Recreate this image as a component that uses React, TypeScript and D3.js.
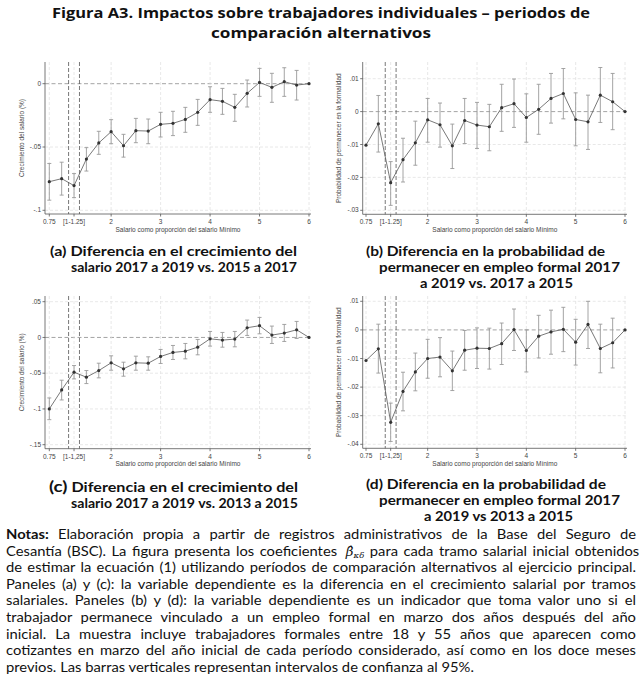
import React, { useLayoutEffect, useRef } from "react";
import * as d3 from "d3";

// bins of initial wage as a proportion of the minimum wage
const xVals = [0.75, 1, 1.25, 1.5, 1.75, 2, 2.25, 2.5, 2.75, 3, 3.25, 3.5, 3.75, 4, 4.25, 4.5, 4.75, 5, 5.25, 5.5, 5.75, 6];
const xTicks = [0.75, 1.25, 2, 3, 4, 5, 6];
const refLines = [1.14, 1.36];

// (a) wage growth 2017-2019 vs 2015-2017
const estA = [-0.0774, -0.075, -0.0805, -0.0595, -0.0468, -0.0379, -0.049, -0.0371, -0.0374, -0.0321, -0.0313, -0.0282, -0.0226, -0.0126, -0.0139, -0.0187, -0.0076, 0.001, -0.0029, 0.0016, -0.0011, 0];
const loA = [-0.092, -0.088, -0.09, -0.069, -0.0558, -0.0474, -0.058, -0.0466, -0.0474, -0.0421, -0.041, -0.0384, -0.0329, -0.0226, -0.0242, -0.0297, -0.0184, -0.01, -0.0147, -0.01, -0.0129, null];
const hiA = [-0.063, -0.062, -0.071, -0.0505, -0.0376, -0.0284, -0.04, -0.0274, -0.0279, -0.0226, -0.0218, -0.0187, -0.0124, -0.0024, -0.0037, -0.0084, 0.0029, 0.0121, 0.0082, 0.0126, 0.0105, null];

// (b) prob. of staying formal 2017-2019 vs 2015-2017
const estB = [-0.0102, -0.0037, -0.0216, -0.0146, -0.0095, -0.0025, -0.004, -0.0104, -0.0027, -0.0041, -0.0046, 0.0012, 0.0024, -0.0018, 0.0007, 0.004, 0.0055, -0.0024, -0.0031, 0.005, 0.003, 0];
const loB = [null, -0.0123, -0.0285, -0.0214, -0.0163, -0.0093, -0.0108, -0.0173, -0.0097, -0.0112, -0.0119, -0.006, -0.0048, -0.0093, -0.0069, -0.0035, -0.0022, -0.0104, -0.0115, -0.0033, -0.0055, null];
const hiB = [null, 0.0049, -0.0152, -0.0081, -0.0029, 0.004, 0.0026, -0.0038, 0.004, 0.0028, 0.0022, 0.0083, 0.0099, 0.0054, 0.0083, 0.0116, 0.0131, 0.0057, 0.005, 0.0134, 0.0116, null];

// (c) wage growth 2017-2019 vs 2013-2015
const estC = [-0.1, -0.0734, -0.0486, -0.0556, -0.0463, -0.0355, -0.0439, -0.0355, -0.036, -0.0266, -0.021, -0.0192, -0.0136, -0.0019, -0.0037, -0.0023, 0.0136, 0.0164, 0.0033, 0.0061, 0.0107, 0];
const loC = [-0.115, -0.0874, -0.058, -0.0645, -0.0565, -0.0458, -0.0542, -0.0458, -0.0458, -0.0364, -0.0308, -0.0299, -0.0243, -0.0121, -0.0136, -0.0131, 0.0028, 0.0051, -0.0084, -0.0056, -0.0014, null];
const hiC = [-0.0846, -0.0598, -0.0393, -0.0463, -0.036, -0.0257, -0.0346, -0.0262, -0.0271, -0.0168, -0.0112, -0.0084, -0.0028, 0.0084, 0.007, 0.0084, 0.0243, 0.028, 0.0159, 0.0182, 0.0224, null];

// (d) prob. of staying formal 2017-2019 vs 2013-2015
const estD = [-0.0107, -0.0066, -0.0323, -0.0215, -0.0147, -0.01, -0.0095, -0.0143, -0.0071, -0.0064, -0.0065, -0.0048, 0.0001, -0.0072, -0.0022, -0.0007, 0.0002, -0.0043, 0.0019, -0.0065, -0.0045, 0];
const loD = [null, -0.0151, -0.039, -0.0283, -0.0213, -0.0169, -0.0164, -0.0212, -0.0141, -0.0135, -0.0137, -0.0121, -0.0072, -0.0147, -0.0098, -0.0085, -0.0076, -0.0123, -0.0065, -0.015, -0.0133, null];
const hiD = [null, 0.002, -0.0256, -0.0148, -0.0081, -0.0033, -0.0027, -0.0074, -0.0002, 0.0007, 0.0006, 0.0024, 0.0073, 0, 0.0051, 0.0069, 0.0079, 0.0037, 0.01, 0.002, 0.0041, null];

const yTicksWage = [0, -0.05, -0.1];
const yLabelsWageA = ["0", "-.05", "-.1"];
const yTicksWageC = [0.05, 0, -0.05, -0.1, -0.15];
const yLabelsWageC = [".05", "0", "-.05", "-.1", "-.15"];
const yTicksFormB = [0.01, 0, -0.01, -0.02, -0.03];
const yLabelsFormB = [".01", "0", "-.01", "-.02", "-.03"];
const yTicksFormD = [0.01, 0, -0.01, -0.02, -0.03, -0.04];
const yLabelsFormD = [".01", "0", "-.01", "-.02", "-.03", "-.04"];

const noteLines = [
  "de estimar la ecuación (1) utilizando períodos de comparación alternativos al ejercicio principal.",
  "Paneles (a) y (c): la variable dependiente es la diferencia en el crecimiento salarial por tramos",
  "salariales. Paneles (b) y (d): la variable dependiente es un indicador que toma valor uno si el",
  "trabajador permanece vinculado a un empleo formal en marzo dos años después del año",
  "inicial. La muestra incluye trabajadores formales entre 18 y 55 años que aparecen como",
  "cotizantes en marzo del año inicial de cada período considerado, así como en los doce meses",
];

const axisFont = "'Liberation Sans', Arial, sans-serif";
const textFont = "Lato, 'Open Sans', sans-serif";
const headFont = "'Open Sans', Lato, sans-serif";

interface PanelProps {
  est: number[];
  lo: (number | null)[];
  hi: (number | null)[];
  yTicks: number[];
  yLabels: string[];
  yRef: [number, number];
  yPix: [number, number];
  top: number;
  bottom: number;
  left: number;
  right: number;
  xPix: [number, number];
  bracket: string;
  yTitle: string;
  yTitleX: number;
}

const Panel = (p: PanelProps) => {
  const x = d3.scaleLinear().domain([0.75, 6]).range(p.xPix);
  const y = d3.scaleLinear().domain(p.yRef).range(p.yPix);
  const pts = xVals.map((v, i) => ({ x: v, y: p.est[i], lo: p.lo[i], hi: p.hi[i] }));
  const line = d3
    .line<{ x: number; y: number }>()
    .x((d) => x(d.x))
    .y((d) => y(d.y));
  const xLabels = xTicks.map((t) => (t === 0.75 ? "0.75" : t === 1.25 ? p.bracket : String(t)));
  return (
    <g>
      {/* grid */}
      {p.yTicks.map((t) => (
        <line key={"gy" + t} x1={p.left} x2={p.right} y1={y(t)} y2={y(t)}
          stroke={t === 0 ? "#9a9a9a" : "#e2e2e2"} strokeWidth={t === 0 ? 0.9 : 0.8} strokeDasharray={t === 0 ? "4,2.5" : "3,2"} />
      ))}
      {xTicks.map((t) => (
        <line key={"gx" + t} x1={x(t)} x2={x(t)} y1={p.top} y2={p.bottom}
          stroke="#e2e2e2" strokeWidth={0.8} strokeDasharray="3,2" />
      ))}
      {refLines.map((r) => (
        <line key={"r" + r} x1={x(r)} x2={x(r)} y1={p.top} y2={p.bottom}
          stroke="#555" strokeWidth={0.8} strokeDasharray="4,2" />
      ))}
      {/* confidence intervals */}
      {pts.filter((d) => d.lo !== null).map((d, i) => (
        <g key={"ci" + i} stroke="#9a9a9a" strokeWidth={0.9}>
          <line x1={x(d.x)} x2={x(d.x)} y1={y(d.lo as number)} y2={y(d.hi as number)} />
          <line x1={x(d.x) - 2} x2={x(d.x) + 2} y1={y(d.lo as number)} y2={y(d.lo as number)} />
          <line x1={x(d.x) - 2} x2={x(d.x) + 2} y1={y(d.hi as number)} y2={y(d.hi as number)} />
        </g>
      ))}
      <path d={line(pts) || ""} fill="none" stroke="#555" strokeWidth={0.8} />
      {pts.map((d, i) => (
        <circle key={"p" + i} cx={x(d.x)} cy={y(d.y)} r={1.6} fill="#333" />
      ))}
      {/* axes */}
      <line x1={p.left} x2={p.left} y1={p.top} y2={p.bottom} stroke="#555" strokeWidth={0.8} />
      <line x1={p.left} x2={p.right} y1={p.bottom} y2={p.bottom} stroke="#555" strokeWidth={0.8} />
      {p.yTicks.map((t, i) => (
        <g key={"yt" + t}>
          <line x1={p.left - 2.5} x2={p.left} y1={y(t)} y2={y(t)} stroke="#555" strokeWidth={0.8} />
          <text x={p.left - 4} y={y(t)} dy="0.33em" textAnchor="end" fontSize={6.5} fill="#444" fontFamily={axisFont}>
            {p.yLabels[i]}
          </text>
        </g>
      ))}
      {xTicks.map((t, i) => (
        <g key={"xt" + t}>
          <line x1={x(t)} x2={x(t)} y1={p.bottom} y2={p.bottom + 2.5} stroke="#555" strokeWidth={0.8} />
          <text x={x(t)} y={p.bottom + 10} textAnchor="middle" fontSize={6.5} fill="#444" fontFamily={axisFont}>
            {xLabels[i]}
          </text>
        </g>
      ))}
      <text x={(p.left + p.right) / 2} y={p.bottom + 17.5} textAnchor="middle" fontSize={6.5} fill="#444" fontFamily={axisFont}>
        Salario como proporción del salario Mínimo
      </text>
      <text transform={`translate(${p.yTitleX},${(p.top + p.bottom) / 2}) rotate(-90)`} textAnchor="middle"
        fontSize={6.5} fill="#444" fontFamily={axisFont}>
        {p.yTitle}
      </text>
    </g>
  );
};

const Caption = ({ lines }: { lines: { t: React.ReactNode; x: number; y: number; w: number }[] }) => (
  <g>
    {lines.map((l, i) => (
      <text key={i} x={l.x} y={l.y} textLength={l.w} lengthAdjust="spacingAndGlyphs"
        fontSize={13.3} fontWeight={700} fill="#111" fontFamily={textFont}>
        {l.t}
      </text>
    ))}
  </g>
);

export default function App() {
  const noteRef = useRef<SVGGElement>(null);
  const noteY0 = 539;
  const noteStep = 16.6;
  const sx = 1.07; // the notes font is a little wider than Lato
  const nx = 6 / sx;
  const nw = 630 / sx;

  // justify the note lines by spreading the spaces between words
  useLayoutEffect(() => {
    if (!noteRef.current) return;
    d3.select(noteRef.current)
      .selectAll<SVGTextElement, unknown>("text.just")
      .each(function () {
        this.removeAttribute("word-spacing");
        const w = this.getComputedTextLength();
        const spaces = (this.textContent || "").split(" ").length - 1;
        if (spaces > 0) this.setAttribute("word-spacing", String((nw - w) / spaces));
      });
  }, []);

  return (
    <div style={{ position: "absolute", left: 0, top: 0 }}>
      <svg width={643} height={681} style={{ display: "block", background: "#fff" }}>
        <text x={52} y={17.8} textLength={538} lengthAdjust="spacingAndGlyphs" fontSize={14.6} fontWeight={700} fill="#111" fontFamily={headFont}>
          Figura A3. Impactos sobre trabajadores individuales – periodos de
        </text>
        <text x={211} y={37.8} textLength={220} lengthAdjust="spacingAndGlyphs" fontSize={14.6} fontWeight={700} fill="#111" fontFamily={headFont}>
          comparación alternativos
        </text>

        <Panel est={estA} lo={loA} hi={hiA} yTicks={yTicksWage} yLabels={yLabelsWageA}
          yRef={[-0.1, 0]} yPix={[210.3, 83.7]} top={62} bottom={214} left={45} right={311}
          xPix={[49.3, 309]} bracket="[1-1.25]" yTitle="Crecimiento del salario (%)" yTitleX={24} />
        <Panel est={estB} lo={loB} hi={hiB} yTicks={yTicksFormB} yLabels={yLabelsFormB}
          yRef={[-0.03, 0.01]} yPix={[210.3, 78.7]} top={62} bottom={214.3} left={362.7} right={627}
          xPix={[366, 625]} bracket="[1-1.25]" yTitle="Probabilidad de permanecer en la formalidad" yTitleX={341} />
        <Panel est={estC} lo={loC} hi={hiC} yTicks={yTicksWageC} yLabels={yLabelsWageC}
          yRef={[-0.15, 0.05]} yPix={[444.7, 301.7]} top={296} bottom={448.7} left={45} right={311}
          xPix={[49.3, 309]} bracket="[1-1,25]" yTitle="Crecimiento del salario (%)" yTitleX={24} />
        <Panel est={estD} lo={loD} hi={hiD} yTicks={yTicksFormD} yLabels={yLabelsFormD}
          yRef={[-0.04, 0.01]} yPix={[444.3, 301.3]} top={296} bottom={448.3} left={362.7} right={627}
          xPix={[366, 625]} bracket="[1-1,25]" yTitle="Probabilidad de permanecer en la formalidad" yTitleX={341} />

        <Caption lines={[
          { t: "(a)  Diferencia en el crecimiento del", x: 50, y: 256, w: 247 },
          { t: "salario 2017 a 2019 vs. 2015 a 2017", x: 71, y: 272, w: 226 },
        ]} />
        <Caption lines={[
          { t: "(b)  Diferencia en la probabilidad de", x: 366, y: 256, w: 239 },
          { t: "permanecer en empleo formal 2017", x: 379, y: 272, w: 241 },
          { t: "a 2019 vs. 2017 a 2015", x: 420, y: 288, w: 153 },
        ]} />
        <Caption lines={[
          { t: <><tspan fontSize={15.5}>(c)</tspan> Diferencia en el crecimiento del</>, x: 49, y: 492, w: 249 },
          { t: "salario 2017 a 2019 vs. 2013 a 2015", x: 71, y: 508, w: 227 },
        ]} />
        <Caption lines={[
          { t: "(d)  Diferencia en la probabilidad de", x: 366, y: 489, w: 240 },
          { t: "permanecer en empleo formal 2017", x: 379, y: 505, w: 241 },
          { t: "a 2019 vs 2013 a 2015", x: 424, y: 521, w: 149 },
        ]} />

        <g ref={noteRef} transform={`scale(${sx},1)`} fontFamily={textFont} fontSize={13.8} fill="#111">
          <text className="just" x={nx} y={noteY0}>
            <tspan fontWeight={700}>Notas:</tspan> Elaboración propia a partir de registros administrativos de la Base del Seguro de
          </text>
          <text className="just" x={nx} y={noteY0 + noteStep}>
            Cesantía (BSC). La figura presenta los coeficientes{" "}
            <tspan dx={3} fontFamily="'DejaVu Serif', serif" fontStyle="italic" fontSize={12.5}>β̂</tspan>
            <tspan fontFamily="'DejaVu Serif', serif" fontStyle="italic" fontSize={8} dy={2}>κδ</tspan>
            <tspan dy={-2}> para cada tramo salarial inicial obtenidos</tspan>
          </text>
          {noteLines.map((l, i) => (
            <text key={i} className="just" x={nx} y={noteY0 + noteStep * (i + 2)}>
              {l}
            </text>
          ))}
          <text x={nx} y={noteY0 + noteStep * 8}>
            previos. Las barras verticales representan intervalos de confianza al 95%.
          </text>
        </g>
      </svg>
    </div>
  );
}
